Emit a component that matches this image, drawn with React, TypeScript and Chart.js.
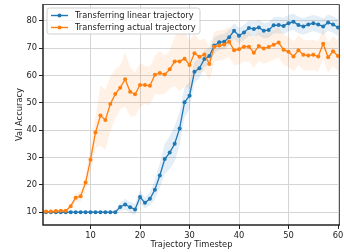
import React, { useEffect, useRef } from 'react';
import { Chart, registerables } from 'chart.js';

Chart.register(...registerables);

const timesteps = [
  1, 2, 3, 4, 5, 6, 7, 8, 9, 10, 11, 12, 13, 14, 15, 16, 17, 18, 19, 20,
  21, 22, 23, 24, 25, 26, 27, 28, 29, 30, 31, 32, 33, 34, 35, 36, 37, 38, 39, 40,
  41, 42, 43, 44, 45, 46, 47, 48, 49, 50, 51, 52, 53, 54, 55, 56, 57, 58, 59, 60,
];

const linearMean = [
  10.0, 10.0, 10.0, 10.0, 10.0, 10.0, 10.0, 10.0, 10.0, 10.0,
  10.0, 10.0, 10.0, 10.0, 10.0, 11.9, 12.8, 11.8, 11.0, 15.5,
  13.4, 14.9, 18.2, 23.4, 29.4, 31.8, 35.0, 40.6, 50.2, 52.6,
  61.3, 62.6, 66.0, 67.1, 70.9, 72.1, 72.3, 73.9, 76.3, 74.5,
  75.7, 77.3, 77.0, 77.5, 76.3, 76.6, 78.3, 78.4, 78.1, 79.1,
  79.6, 78.4, 77.9, 78.6, 79.1, 78.6, 77.9, 79.3, 78.6, 77.5,
];

const linearStd = [
  0.2, 0.2, 0.2, 0.2, 0.2, 0.2, 0.2, 0.2, 0.2, 0.2,
  0.2, 0.2, 0.2, 0.2, 0.3, 1.5, 2.0, 2.0, 2.0, 2.5,
  2.0, 2.5, 3.5, 4.5, 5.5, 6.0, 6.5, 6.0, 5.5, 5.0,
  4.0, 3.5, 3.0, 3.0, 3.0, 2.8, 2.8, 2.8, 2.8, 2.8,
  2.8, 2.8, 2.8, 2.8, 2.8, 2.8, 3.0, 3.0, 3.0, 3.0,
  3.0, 3.0, 3.0, 3.0, 3.0, 3.0, 3.0, 3.0, 3.0, 3.0,
];

const actualMean = [
  10.2, 10.2, 10.4, 10.5, 10.5, 12.2, 15.3, 15.8, 20.8, 29.2,
  39.1, 45.3, 43.7, 49.5, 53.2, 55.5, 58.6, 54.0, 53.1, 56.5,
  56.5, 56.2, 60.2, 60.9, 60.3, 62.2, 65.1, 65.1, 66.1, 63.8,
  68.1, 66.8, 67.6, 64.2, 70.5, 70.9, 71.3, 72.3, 69.2, 69.6,
  70.5, 70.5, 68.3, 70.7, 69.8, 70.4, 71.2, 72.0, 69.4, 68.6,
  66.9, 69.2, 67.5, 67.3, 67.5, 66.9, 71.6, 66.6, 68.8, 67.1,
];

const actualStd = [
  0.3, 0.3, 0.3, 0.3, 0.4, 0.8, 1.5, 2.0, 3.0, 5.0,
  5.5, 11.0, 11.0, 10.0, 9.0, 8.0, 10.0, 9.0, 8.0, 8.0,
  7.0, 7.0, 7.0, 8.0, 7.0, 7.0, 9.0, 11.0, 10.0, 9.0,
  7.0, 6.0, 6.0, 6.0, 5.5, 5.5, 5.5, 5.5, 5.5, 5.5,
  5.5, 5.5, 5.5, 5.5, 5.5, 5.5, 5.5, 5.5, 5.5, 5.5,
  5.5, 5.5, 5.5, 5.5, 5.5, 5.5, 5.5, 5.5, 5.5, 5.5,
];

const xTicks = [10, 20, 30, 40, 50, 60];
const yTicks = [10, 20, 30, 40, 50, 60, 70, 80];
const seriesLabels = ['Transferring linear trajectory', 'Transferring actual trajectory'];
const xTitle = 'Trajectory Timestep';
const yTitle = 'Val Accuracy';

const BLUE = '#1f77b4';
const ORANGE = '#ff7f0e';
const FONT = 'DejaVu Sans';
const FS = 8.3;

const pts = (vals: number[]) => timesteps.map((t, i) => ({ x: t, y: vals[i] }));
const band = (m: number[], s: number[], sign: number) =>
  timesteps.map((t, i) => ({ x: t, y: m[i] + sign * s[i] }));

const framePlugin = {
  id: 'frame',
  afterDatasetsDraw(chart: any) {
    const { ctx, chartArea: a } = chart;
    ctx.save();
    ctx.lineWidth = 1;
    ctx.strokeStyle = '#555';
    ctx.beginPath();
    ctx.moveTo(a.left + 0.5, a.top + 0.5);
    ctx.lineTo(a.right - 0.5, a.top + 0.5);
    ctx.lineTo(a.right - 0.5, a.bottom);
    ctx.stroke();
    ctx.lineWidth = 1.5;
    ctx.strokeStyle = '#222';
    ctx.beginPath();
    ctx.moveTo(a.left, a.top);
    ctx.lineTo(a.left, a.bottom);
    ctx.lineTo(a.right, a.bottom);
    ctx.stroke();
    ctx.restore();
  },
};

const legendPlugin = {
  id: 'insideLegend',
  afterDraw(chart: any) {
    const { ctx, chartArea: a } = chart;
    const x = a.left + 4;
    const y = a.top + 4;
    const w = 153;
    const h = 26;
    ctx.save();
    ctx.beginPath();
    const r = 2.5;
    ctx.moveTo(x + r, y);
    ctx.lineTo(x + w - r, y);
    ctx.quadraticCurveTo(x + w, y, x + w, y + r);
    ctx.lineTo(x + w, y + h - r);
    ctx.quadraticCurveTo(x + w, y + h, x + w - r, y + h);
    ctx.lineTo(x + r, y + h);
    ctx.quadraticCurveTo(x, y + h, x, y + h - r);
    ctx.lineTo(x, y + r);
    ctx.quadraticCurveTo(x, y, x + r, y);
    ctx.closePath();
    ctx.fillStyle = 'rgba(255,255,255,0.8)';
    ctx.fill();
    ctx.strokeStyle = '#d0d0d0';
    ctx.lineWidth = 1;
    ctx.stroke();
    const colors = [BLUE, ORANGE];
    seriesLabels.forEach((lab, i) => {
      const cy = y + 7.5 + i * 12;
      ctx.strokeStyle = colors[i];
      ctx.lineWidth = 1.4;
      ctx.beginPath();
      ctx.moveTo(x + 4, cy);
      ctx.lineTo(x + 21, cy);
      ctx.stroke();
      ctx.fillStyle = colors[i];
      ctx.beginPath();
      ctx.arc(x + 12.5, cy, 2, 0, Math.PI * 2);
      ctx.fill();
      ctx.fillStyle = '#222';
      ctx.font = `${FS}px "${FONT}"`;
      ctx.textBaseline = 'middle';
      ctx.textAlign = 'left';
      ctx.fillText(lab, x + 28, cy + 0.5);
    });
    ctx.restore();
  },
};

export default function App() {
  const ref = useRef<HTMLCanvasElement | null>(null);

  useEffect(() => {
    document.body.style.margin = '0';
    if (!ref.current) return;
    const chart = new Chart(ref.current, {
      type: 'line',
      data: {
        datasets: [
          {
            label: 'linear upper',
            data: band(linearMean, linearStd, 1),
            borderWidth: 0,
            pointRadius: 0,
            fill: false,
            order: 10,
          },
          {
            label: 'linear lower',
            data: band(linearMean, linearStd, -1),
            borderWidth: 0,
            pointRadius: 0,
            fill: '-1',
            backgroundColor: 'rgba(31,119,180,0.12)',
            order: 10,
          },
          {
            label: 'actual upper',
            data: band(actualMean, actualStd, 1),
            borderWidth: 0,
            pointRadius: 0,
            fill: false,
            order: 9,
          },
          {
            label: 'actual lower',
            data: band(actualMean, actualStd, -1),
            borderWidth: 0,
            pointRadius: 0,
            fill: '-1',
            backgroundColor: 'rgba(255,127,14,0.11)',
            order: 9,
          },
          {
            label: seriesLabels[0],
            data: pts(linearMean),
            borderColor: BLUE,
            backgroundColor: BLUE,
            borderWidth: 1.3,
            pointRadius: 2,
            pointBorderWidth: 0,
            pointBackgroundColor: BLUE,
            fill: false,
            order: 1,
          },
          {
            label: seriesLabels[1],
            data: pts(actualMean),
            borderColor: ORANGE,
            backgroundColor: ORANGE,
            borderWidth: 1.3,
            pointRadius: 2,
            pointBorderWidth: 0,
            pointBackgroundColor: ORANGE,
            fill: false,
            order: 0,
          },
        ],
      },
      options: {
        responsive: false,
        animation: false,
        layout: { padding: { top: 1, right: 1, left: 0, bottom: 0 } },
        plugins: {
          legend: { display: false },
          tooltip: { enabled: false },
        },
        scales: {
          x: {
            type: 'linear',
            min: 0.4,
            max: 60.4,
            afterBuildTicks: (s: any) => {
              s.ticks = xTicks.map((v) => ({ value: v }));
            },
            afterFit: (s: any) => {
              s.height = 27;
              s.paddingLeft = 0;
              s.paddingRight = 0;
            },
            grid: {
              color: '#d5d5d5',
              lineWidth: 1,
              drawTicks: true,
              tickLength: 4,
              tickColor: '#222',
              tickWidth: 1,
            },
            border: { display: false },
            ticks: {
              color: '#222',
              font: { family: FONT, size: FS },
              padding: 2,
              maxRotation: 0,
              autoSkip: false,
            },
            title: {
              display: true,
              text: xTitle,
              color: '#222',
              font: { family: FONT, size: FS },
              padding: { top: 0, bottom: 2 },
            },
          },
          y: {
            type: 'linear',
            min: 5.3,
            max: 86.1,
            afterBuildTicks: (s: any) => {
              s.ticks = yTicks.map((v) => ({ value: v }));
            },
            afterFit: (s: any) => {
              s.width = 43;
              s.paddingTop = 0;
              s.paddingBottom = 0;
            },
            grid: {
              color: '#d5d5d5',
              lineWidth: 1,
              drawTicks: true,
              tickLength: 4,
              tickColor: '#222',
              tickWidth: 1,
            },
            border: { display: false },
            ticks: {
              color: '#222',
              font: { family: FONT, size: FS },
              padding: 2,
              autoSkip: false,
            },
            title: {
              display: true,
              text: yTitle,
              color: '#222',
              font: { family: FONT, size: FS },
              padding: { top: 15, bottom: 0 },
            },
          },
        },
      },
      plugins: [framePlugin, legendPlugin],
    } as any);
    return () => chart.destroy();
  }, []);

  return (
    <div style={{ width: 344, height: 252 }}>
      <canvas ref={ref} width={344} height={252} style={{ width: 344, height: 252, display: 'block' }} />
    </div>
  );
}
